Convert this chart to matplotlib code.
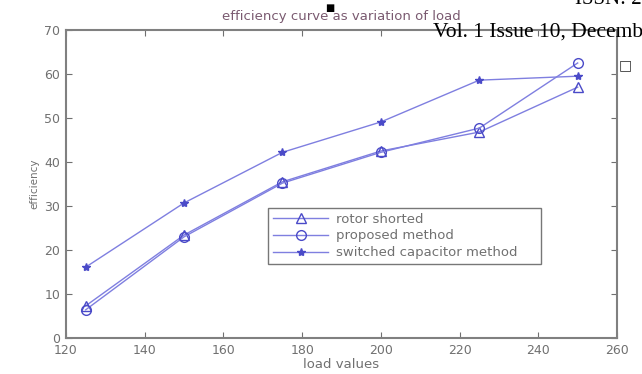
import matplotlib.pyplot as plt

carga = [125, 150, 175, 200, 225, 250]
rotorCurto = [7.3, 23.4, 35.5, 42.5, 46.8, 57.0]
metodoProposto = [6.4, 23.0, 35.2, 42.2, 47.7, 62.5]
capacitorChaveado = [16.1, 30.7, 42.2, 49.1, 58.6, 59.5]

corLinha = "#7f7fe0"
corMarca = "#4a4ac8"
cinza = "#707070"

fig = plt.figure(figsize=(6.42, 3.74), dpi=100)
ax = fig.add_axes([0.1028, 0.0963, 0.8583, 0.8235])

ax.plot(carga, rotorCurto, color=corLinha, marker="^", markersize=7, markerfacecolor="none",
        markeredgecolor=corMarca, linewidth=1.0, label="rotor shorted")
ax.plot(carga, metodoProposto, color=corLinha, marker="o", markersize=7, markerfacecolor="none",
        markeredgecolor=corMarca, linewidth=1.0, label="proposed method")
ax.plot(carga, capacitorChaveado, color=corLinha, marker="*", markersize=6,
        markerfacecolor=corMarca, markeredgecolor=corMarca, linewidth=1.0, label="switched capacitor method")

ax.set_xlim(120, 260)
ax.set_ylim(0, 70)
ax.set_xticks(range(120, 261, 20))
ax.set_yticks(range(0, 71, 10))
ax.tick_params(direction="in", length=4, labelsize=9, colors=cinza, top=True, right=True, pad=4)
for lado in ax.spines.values():
    lado.set_color("#808080")
    lado.set_linewidth(1.5)

ax.set_xlabel("load values", fontsize=9.5, color=cinza, labelpad=1)
ax.set_ylabel("efficiency", fontsize=7.5, color=cinza, labelpad=4)
ax.set_title("efficiency curve as variation of load", fontsize=9.5, color="#7a5a70", pad=7)

leg = ax.legend(loc="lower left", bbox_to_anchor=(0.367, 0.24, 0.495, 0.18), mode="expand",
                fontsize=9.5, frameon=True, fancybox=False, borderpad=0.35, labelspacing=0.3,
                handlelength=4.2, handletextpad=0.6, borderaxespad=0)
leg.get_frame().set_edgecolor("#555555")
leg.get_frame().set_linewidth(1.0)
for t in leg.get_texts():
    t.set_color(cinza)

fig.text(0.674, 1 - 32 / 374, "Vol. 1 Issue 10, Decemb", family="Liberation Serif", fontsize=15.5,
         color="black", va="center")
fig.text(0.895, 1.0, "ISSN: 22", family="Liberation Serif", fontsize=15, color="black", va="center")
fig.text(330 / 642, 1 - 8 / 374, "\u25a0", fontsize=7, color="black", ha="center", va="center")
fig.text(625 / 642, 1 - 65 / 374, "\u25a1", fontsize=10, color="#333333", ha="center", va="center")

plt.savefig("out.png", dpi=100)
